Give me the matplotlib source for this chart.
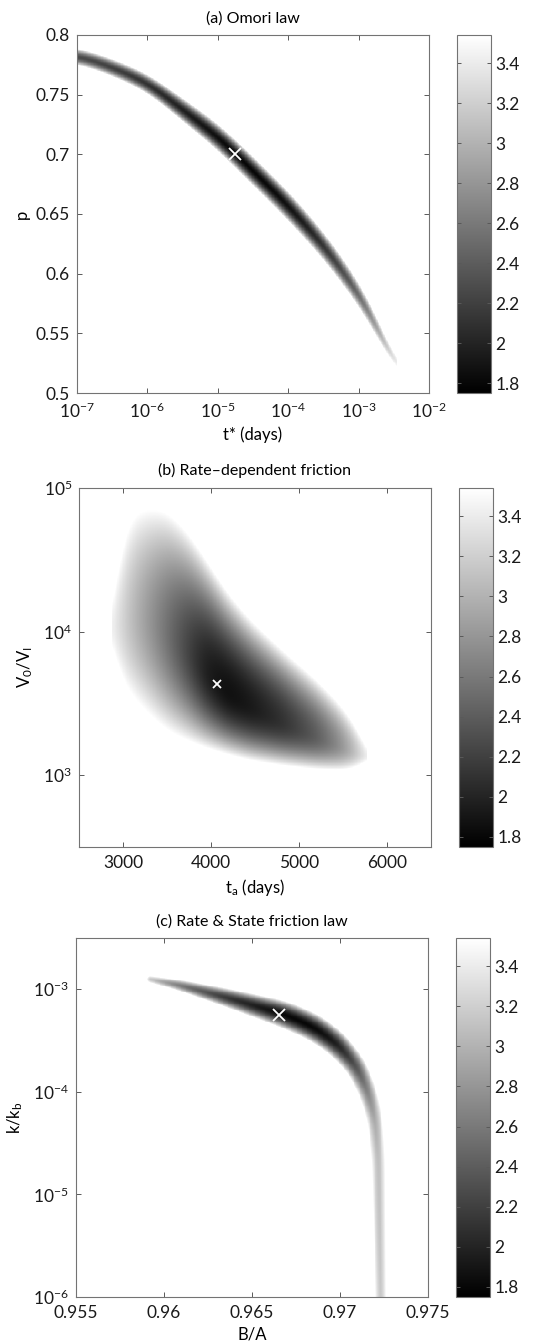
import numpy as np
import matplotlib
matplotlib.use("Agg")
import matplotlib.pyplot as plt
from matplotlib.ticker import FixedLocator, NullLocator, FormatStrFormatter

plt.rcParams["font.family"] = ["Lato", "DejaVu Sans"]
plt.rcParams["mathtext.fontset"] = "custom"
plt.rcParams["mathtext.rm"] = "Lato"
plt.rcParams["mathtext.it"] = "Lato:italic"
plt.rcParams["mathtext.bf"] = "Lato:bold"

VMIN, VMAX = 1.75, 3.54
CB_TICKS = [1.8, 2.0, 2.2, 2.4, 2.6, 2.8, 3.0, 3.2, 3.4]

# (a) Omori law: misfit valley, read column by column
a_tstar = [5.0e-8, 1e-7, 3.16e-7, 1e-6, 1e-5, 1.78e-5, 1e-4, 3.16e-4, 1e-3,
           2.0e-3, 2.9e-3, 3.5e-3]
a_p = [0.789, 0.783, 0.773, 0.760, 0.7148, 0.7005, 0.657, 0.624, 0.584, 0.552,
       0.530, 0.515]
a_halfw = [0.0066, 0.0068, 0.0072, 0.0080, 0.0115, 0.0120, 0.0125, 0.0118,
           0.0105, 0.0085, 0.0050, 0.0020]
a_min = [2.30, 2.28, 2.20, 2.10, 1.85, 1.78, 1.85, 2.10, 2.45, 2.90, 3.30, 3.60]
a_best = (1.78e-5, 0.70)

# (b) Rate-dependent friction: blob edges and darkest line per column
b_ta = [2875, 2898, 2943, 3023, 3114, 3307, 3500, 3727, 3955, 4182, 4443,
        4818, 5205, 5500, 5727, 5773]
b_top = [1.04e4, 1.55e4, 3.09e4, 4.91e4, 6.65e4, 7.19e4, 6.85e4, 4.99e4, 3.09e4,
         1.88e4, 1.21e4, 7350, 4550, 2960, 1830, 1330]
b_bot = [1.04e4, 7000, 5350, 4210, 3480, 2610, 2050, 1750, 1540, 1400, 1270,
         1170, 1100, 1080, 1170, 1330]
b_dark = [1.04e4, 1.05e4, 1.12e4, 1.2e4, 1.26e4, 1.2e4, 1.01e4, 7590, 5250, 3800,
          3020, 2340, 1860, 1580, 1380, 1330]
b_min = [3.54, 3.40, 3.30, 3.20, 3.05, 2.80, 2.55, 2.25, 1.95, 1.85, 1.92,
         2.10, 2.40, 2.80, 3.30, 3.54]
b_best = (4068, 4340)

# (c) Rate & State friction law: ridge followed along its length
c_ba = [0.95902, 0.96091, 0.96375, 0.96682, 0.96848, 0.96981, 0.97095, 0.97161,
        0.97199, 0.97218, 0.97231, 0.97232]
c_k = [1.27e-3, 1.094e-3, 8.13e-4, 5.71e-4, 4.31e-4, 2.97e-4, 1.76e-4, 9.7e-5,
       5.35e-5, 2.19e-5, 1e-6, 7e-7]
c_halfw_px = [3.0, 5.5, 9.5, 13.5, 13.5, 12.5, 10.5, 9.0, 7.5, 6.5, 5.0, 5.0]
c_min = [3.20, 2.60, 2.10, 1.80, 1.80, 1.95, 2.35, 2.70, 2.95, 3.10, 3.15, 3.15]
c_best = (0.96655, 5.6e-4)


def smooth(arr, sigma):
    k = np.arange(-3 * sigma, 3 * sigma + 1)
    ker = np.exp(-0.5 * (k / sigma) ** 2)
    ker /= ker.sum()
    padded = np.pad(arr, len(k) // 2, mode="edge")
    return np.convolve(padded, ker, mode="valid")


def column_field(xg, yg, xc, yc, top, bot, m, sigma, power):
    c = smooth(np.interp(xg, xc, yc), sigma)
    t = smooth(np.interp(xg, xc, top), sigma)
    b = smooth(np.interp(xg, xc, bot), sigma)
    mm = smooth(np.interp(xg, xc, m), sigma)
    Y = yg[:, None]
    h = np.where(Y >= c, t - c, c - b)
    h = np.maximum(h, 1e-9)
    val = mm + (VMAX - mm) * np.abs((Y - c) / h) ** power
    outside = (xg < xc[0]) | (xg > xc[-1])
    val[:, outside] = VMAX + 1
    return val


def ridge_field(gx, gy, px, py, m, w, power):
    seg = np.hypot(np.diff(px), np.diff(py))
    s = np.concatenate([[0], np.cumsum(seg)])
    ss = np.linspace(0, s[-1], 900)
    sx = smooth(np.interp(ss, s, px), 16)
    sy = smooth(np.interp(ss, s, py), 16)
    sm = smooth(np.interp(ss, s, m), 14)
    sw = smooth(np.interp(ss, s, w), 14)
    out = np.empty(gx.shape)
    for i in range(gx.shape[0]):
        d = np.hypot(gx[i][:, None] - sx, gy[i][:, None] - sy)
        out[i] = np.min(sm + (VMAX - sm) * (d / sw) ** power, axis=1)
    return out


def style(ax):
    ax.tick_params(direction="in", top=True, right=True, length=3.5, width=0.7,
                   color="0.35", labelcolor="0.1", labelsize=12.5)
    ax.tick_params(axis="x", pad=6)
    ax.tick_params(axis="y", pad=5)
    for sp in ax.spines.values():
        sp.set_color("0.45")
        sp.set_linewidth(0.8)
    ax.xaxis.set_minor_locator(NullLocator())
    ax.yaxis.set_minor_locator(NullLocator())


def add_cbar(fig, mesh, rect):
    cax = fig.add_axes(rect)
    cb = fig.colorbar(mesh, cax=cax, ticks=CB_TICKS)
    cb.ax.yaxis.set_major_formatter(FormatStrFormatter("%g"))
    cb.outline.set_edgecolor("0.45")
    cb.outline.set_linewidth(0.8)
    cax.tick_params(direction="in", left=True, right=True, length=3, width=0.7,
                    color="0.35", labelcolor="0.1", labelsize=12.5, pad=3)
    cax.yaxis.set_minor_locator(NullLocator())
    return cb


fig = plt.figure(figsize=(5.33, 13.43), dpi=100)
W, H = 533.0, 1343.0

# panel a
ax = fig.add_axes([77 / W, 1 - 393 / H, 352 / W, 358 / H])
lt = np.linspace(-7, -2, 600)
pp = np.linspace(0.5, 0.8, 600)
la = np.log10(a_tstar)
ca = np.array(a_p)
ha = np.array(a_halfw)
za = column_field(lt, pp, la, ca, ca + ha, ca - ha, a_min, 22, 1.7)
mesh = ax.pcolormesh(10 ** lt, pp, za, cmap="gray", vmin=VMIN, vmax=VMAX,
                     shading="nearest", rasterized=True)
ax.plot(*a_best, "x", color="white", ms=8, mew=1.3)
ax.set_xscale("log")
ax.set_xlim(1e-7, 1e-2)
ax.set_ylim(0.5, 0.8)
ax.xaxis.set_major_locator(FixedLocator(10.0 ** np.arange(-7, -1)))
ax.yaxis.set_major_locator(FixedLocator(np.arange(0.5, 0.801, 0.05)))
ax.yaxis.set_major_formatter(FormatStrFormatter("%g"))
style(ax)
ax.set_title("(a) Omori law", fontsize=11.5, pad=9)
ax.set_xlabel("t* (days)", fontsize=12)
ax.set_ylabel("p", fontsize=12)
add_cbar(fig, mesh, [457 / W, 1 - 393 / H, 34 / W, 358 / H])

# panel b
ax = fig.add_axes([79 / W, 1 - 847 / H, 352 / W, 359 / H])
tx = np.linspace(2500, 6500, 600)
ly = np.linspace(2.5, 5, 600)
zb = column_field(tx, ly, b_ta, np.log10(b_dark), np.log10(b_top),
                  np.log10(b_bot), b_min, 12, 2.0)
mesh = ax.pcolormesh(tx, 10 ** ly, zb, cmap="gray", vmin=VMIN, vmax=VMAX,
                     shading="nearest", rasterized=True)
ax.plot(*b_best, "x", color="white", ms=6, mew=1.3)
ax.set_yscale("log")
ax.set_xlim(2500, 6500)
ax.set_ylim(10 ** 2.5, 1e5)
ax.xaxis.set_major_locator(FixedLocator([3000, 4000, 5000, 6000]))
ax.yaxis.set_major_locator(FixedLocator([1e3, 1e4, 1e5]))
style(ax)
ax.set_title("(b) Rate\u2013dependent friction", fontsize=11.5, pad=9)
ax.set_xlabel(r"t$_\mathregular{a}$ (days)", fontsize=12)
ax.set_ylabel(r"V$_\mathregular{0}$/V$_\mathregular{I}$", fontsize=12, labelpad=6)
add_cbar(fig, mesh, [459 / W, 1 - 847 / H, 34 / W, 359 / H])

# panel c
ax = fig.add_axes([76 / W, 1 - 1297 / H, 352 / W, 359 / H])
bx = np.linspace(0.955, 0.975, 420)
lk = np.linspace(-6, -2.5, 420)
GX, GY = np.meshgrid((bx - 0.955) / 0.02 * 352, (lk + 6) / 3.5 * 359)
cpx = (np.array(c_ba) - 0.955) / 0.02 * 352
cpy = (np.log10(c_k) + 6) / 3.5 * 359
zc = ridge_field(GX, GY, cpx, cpy, np.array(c_min), np.array(c_halfw_px), 1.7)
mesh = ax.pcolormesh(bx, 10 ** lk, zc, cmap="gray", vmin=VMIN, vmax=VMAX,
                     shading="nearest", rasterized=True)
ax.plot(*c_best, "x", color="white", ms=8, mew=1.3)
ax.set_yscale("log")
ax.set_xlim(0.955, 0.975)
ax.set_ylim(1e-6, 10 ** -2.5)
ax.xaxis.set_major_locator(FixedLocator([0.955, 0.96, 0.965, 0.97, 0.975]))
ax.xaxis.set_major_formatter(FormatStrFormatter("%g"))
ax.yaxis.set_major_locator(FixedLocator([1e-6, 1e-5, 1e-4, 1e-3]))
style(ax)
ax.set_title("(c) Rate & State friction law", fontsize=11.5, pad=9)
ax.set_xlabel("B/A", fontsize=12)
ax.set_ylabel(r"k/k$_\mathregular{b}$", fontsize=12, labelpad=6)
add_cbar(fig, mesh, [456 / W, 1 - 1297 / H, 34 / W, 359 / H])

fig.savefig("out.png", dpi=100)
